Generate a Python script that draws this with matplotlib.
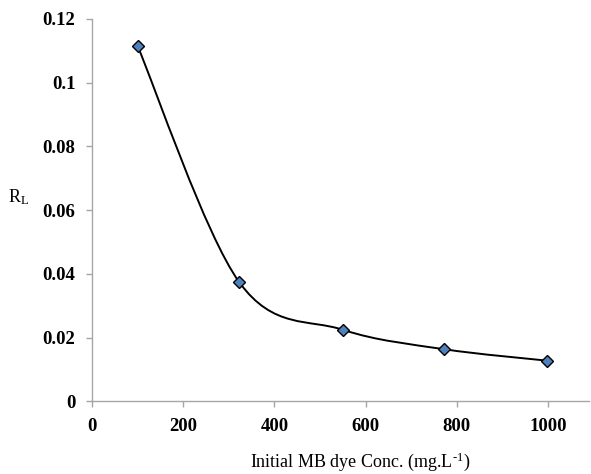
import numpy as np
import matplotlib.pyplot as plt
from matplotlib.path import Path
from matplotlib.patches import PathPatch

# Initial dye concentration (mg/L) and separation factor RL
conc = [100, 323, 550, 772, 998]
rl = [0.1115, 0.0374, 0.0225, 0.0164, 0.0128]

x_ticks = [0, 200, 400, 600, 800, 1000]
y_ticks = [0, 0.02, 0.04, 0.06, 0.08, 0.1, 0.12]
y_tick_labels = ['0', '0.02', '0.04', '0.06', '0.08', '0.1', '0.12']

plt.rcParams['font.family'] = ['Liberation Serif', 'DejaVu Serif']
plt.rcParams['mathtext.fontset'] = 'custom'
plt.rcParams['mathtext.rm'] = 'Liberation Serif'
plt.rcParams['mathtext.it'] = 'Liberation Serif:italic'
plt.rcParams['mathtext.bf'] = 'Liberation Serif:bold'

fig = plt.figure(figsize=(5.91, 4.74), dpi=100)
ax = fig.add_axes([0.1557, 0.153, 0.841, 0.807])


def smooth_path(xs, ys, k=1.0 / 6):
    # cubic bezier through every point, spreadsheet-style smoothing
    p = np.column_stack([xs, ys]).astype(float)
    n = len(p)
    verts = [p[0]]
    codes = [Path.MOVETO]
    for i in range(n - 1):
        p0 = p[i - 1] if i > 0 else p[i]
        p3 = p[i + 2] if i + 2 < n else p[i + 1]
        c1 = p[i] + (p[i + 1] - p0) * k
        c2 = p[i + 1] - (p3 - p[i]) * k
        verts += [c1, c2, p[i + 1]]
        codes += [Path.CURVE4] * 3
    return Path(verts, codes)


ax.add_patch(PathPatch(smooth_path(conc, rl), facecolor='none',
                       edgecolor='black', lw=1.4, zorder=2))
ax.plot(conc, rl, linestyle='none', marker='D', markersize=6,
        markerfacecolor='#4f81bd', markeredgecolor='black',
        markeredgewidth=1.0, zorder=3)

ax.set_xlim(0, 1090)
ax.set_ylim(0, 0.12)
ax.set_xticks(x_ticks)
ax.set_yticks(y_ticks)
ax.set_yticklabels(y_tick_labels)

for side in ['top', 'right']:
    ax.spines[side].set_visible(False)
for side in ['left', 'bottom']:
    ax.spines[side].set_color('#a6a6a6')
    ax.spines[side].set_linewidth(1.0)

ax.tick_params(axis='both', direction='out', length=4, width=1.0,
               color='#a6a6a6', labelsize=13.5, pad=8)
for lab in ax.get_xticklabels() + ax.get_yticklabels():
    lab.set_fontweight('bold')

fig.text(360 / 591, 1 - 462 / 474, 'Initial MB dye Conc. (mg.L$^{\\text{-1}}$)',
         ha='center', va='center', fontsize=13)
fig.text(19 / 591, 1 - 197 / 474, 'R$_{\\mathrm{L}}$',
         ha='center', va='center', fontsize=13)

fig.savefig('out.png', dpi=100)
